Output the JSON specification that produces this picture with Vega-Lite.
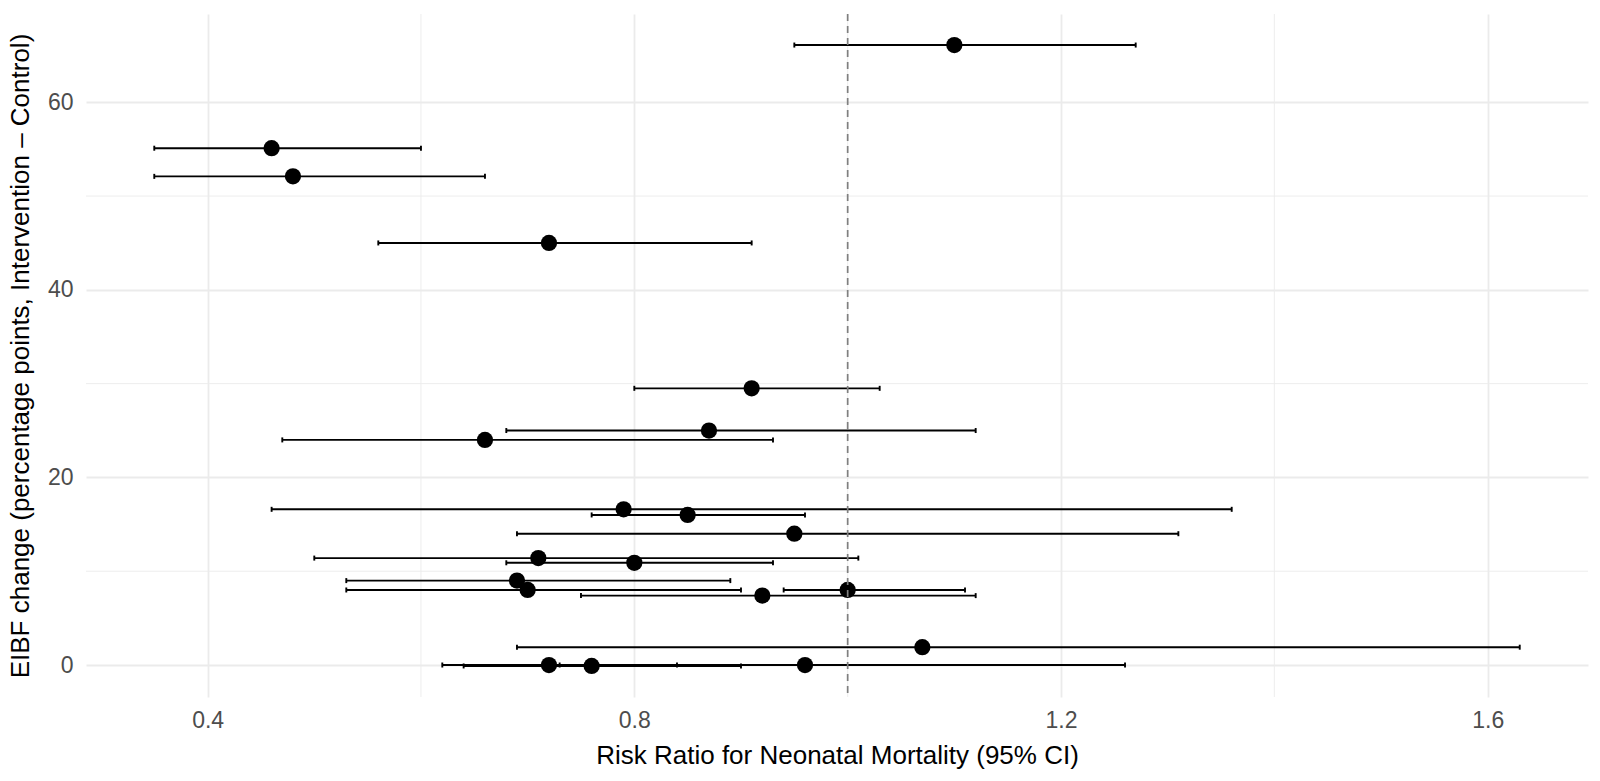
{
  "$schema": "https://vega.github.io/schema/vega-lite/v6.json",
  "width": 1502,
  "height": 683,
  "autosize": {"type": "none"},
  "padding": {"left": 86, "top": 14, "right": 12, "bottom": 84},
  "background": "white",
  "config": {
    "view": {"stroke": null},
    "font": "Liberation Sans",
    "axis": {
      "domain": false,
      "ticks": false,
      "labelFont": "Liberation Sans",
      "titleFont": "Liberation Sans",
      "labelColor": "#4D4D4D",
      "titleColor": "#000000",
      "labelFontSize": 23,
      "titleFontSize": 26,
      "titleFontWeight": "normal",
      "gridColor": "#EBEBEB",
      "gridWidth": 1.8
    }
  },
  "datasets": {
    "studies": [
      {"eibf": 66.1, "rr": 1.10, "lo": 0.95, "hi": 1.27},
      {"eibf": 55.1, "rr": 0.46, "lo": 0.35, "hi": 0.60},
      {"eibf": 52.1, "rr": 0.48, "lo": 0.35, "hi": 0.66},
      {"eibf": 45.0, "rr": 0.72, "lo": 0.56, "hi": 0.91},
      {"eibf": 29.5, "rr": 0.91, "lo": 0.80, "hi": 1.03},
      {"eibf": 25.0, "rr": 0.87, "lo": 0.68, "hi": 1.12},
      {"eibf": 24.0, "rr": 0.66, "lo": 0.47, "hi": 0.93},
      {"eibf": 16.6, "rr": 0.79, "lo": 0.46, "hi": 1.36},
      {"eibf": 16.0, "rr": 0.85, "lo": 0.76, "hi": 0.96},
      {"eibf": 14.0, "rr": 0.95, "lo": 0.69, "hi": 1.31},
      {"eibf": 11.4, "rr": 0.71, "lo": 0.50, "hi": 1.01},
      {"eibf": 10.9, "rr": 0.80, "lo": 0.68, "hi": 0.93},
      {"eibf": 9.0, "rr": 0.69, "lo": 0.53, "hi": 0.89},
      {"eibf": 8.0, "rr": 0.70, "lo": 0.53, "hi": 0.90},
      {"eibf": 8.0, "rr": 1.00, "lo": 0.94, "hi": 1.11},
      {"eibf": 7.4, "rr": 0.92, "lo": 0.75, "hi": 1.12},
      {"eibf": 1.9, "rr": 1.07, "lo": 0.69, "hi": 1.63},
      {"eibf": 0.0, "rr": 0.72, "lo": 0.62, "hi": 0.84},
      {"eibf": -0.1, "rr": 0.76, "lo": 0.64, "hi": 0.90},
      {"eibf": 0.0, "rr": 0.96, "lo": 0.73, "hi": 1.26}
    ],
    "minorX": [{"v": 0.6}, {"v": 1.0}, {"v": 1.4}],
    "minorY": [{"v": 10}, {"v": 30}, {"v": 50}],
    "ref": [{"v": 1.0}]
  },
  "layer": [
    {
      "data": {"name": "minorX"},
      "mark": {"type": "rule", "color": "#EBEBEB", "strokeWidth": 0.9},
      "encoding": {
        "x": {
          "field": "v",
          "type": "quantitative",
          "scale": {"domain": [0.286, 1.694], "nice": false, "zero": false},
          "axis": {
            "values": [0.4, 0.8, 1.2, 1.6],
            "format": ".1f",
            "title": "Risk Ratio for Neonatal Mortality (95% CI)",
            "labelPadding": 12.5,
            "titlePadding": 9.5
          }
        }
      }
    },
    {
      "data": {"name": "minorY"},
      "mark": {"type": "rule", "color": "#EBEBEB", "strokeWidth": 0.9},
      "encoding": {
        "y": {
          "field": "v",
          "type": "quantitative",
          "scale": {"domain": [-3.41, 69.41], "nice": false, "zero": false},
          "axis": {
            "values": [0, 20, 40, 60],
            "title": "EIBF change (percentage points, Intervention – Control)",
            "labelPadding": 13,
            "titlePadding": 14
          }
        }
      }
    },
    {
      "data": {"name": "studies"},
      "mark": {"type": "rule", "color": "black", "strokeWidth": 1.9},
      "encoding": {
        "x": {"field": "lo", "type": "quantitative"},
        "x2": {"field": "hi"},
        "y": {"field": "eibf", "type": "quantitative"}
      }
    },
    {
      "data": {"name": "studies"},
      "mark": {"type": "rule", "color": "black", "strokeWidth": 1.9, "yOffset": -2.5, "y2Offset": 2.5},
      "encoding": {
        "x": {"field": "lo", "type": "quantitative"},
        "y": {"field": "eibf", "type": "quantitative"},
        "y2": {"field": "eibf"}
      }
    },
    {
      "data": {"name": "studies"},
      "mark": {"type": "rule", "color": "black", "strokeWidth": 1.9, "yOffset": -2.5, "y2Offset": 2.5},
      "encoding": {
        "x": {"field": "hi", "type": "quantitative"},
        "y": {"field": "eibf", "type": "quantitative"},
        "y2": {"field": "eibf"}
      }
    },
    {
      "data": {"name": "studies"},
      "mark": {"type": "circle", "color": "black", "opacity": 1, "size": 265},
      "encoding": {
        "x": {"field": "rr", "type": "quantitative"},
        "y": {"field": "eibf", "type": "quantitative"}
      }
    },
    {
      "data": {"name": "ref"},
      "mark": {"type": "rule", "color": "#7F7F7F", "strokeWidth": 1.7, "strokeDash": [7, 5]},
      "encoding": {
        "x": {"field": "v", "type": "quantitative"}
      }
    }
  ]
}
